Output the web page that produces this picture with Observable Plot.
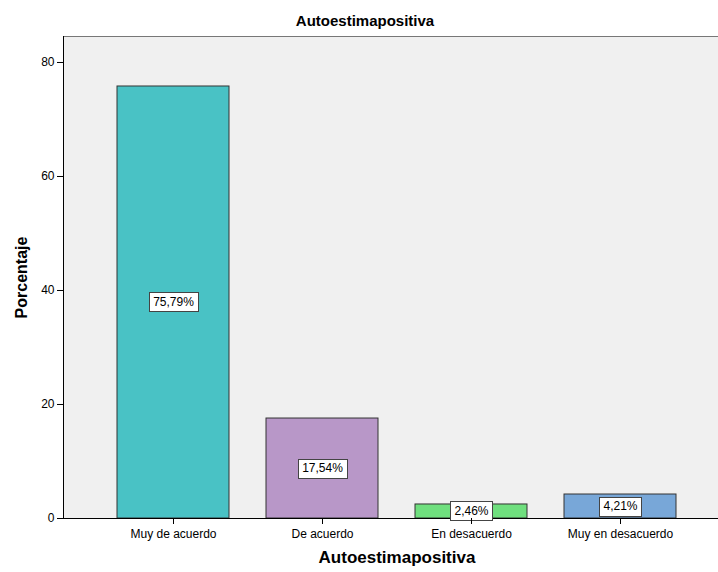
<!DOCTYPE html>
<html>
<head>
<meta charset="utf-8">
<script src="https://cdn.jsdelivr.net/npm/d3@7"></script>
<script src="https://cdn.jsdelivr.net/npm/@observablehq/plot@0.6"></script>
<style>
  body { margin: 0; background: #fff; overflow: hidden; font-family: Arial, "Liberation Sans", sans-serif; }
  #title { width: 730px; height: 36px; line-height: 42px; overflow: visible; text-align: center; font-weight: bold; font-size: 15px; color: #000; }
  svg { display: block; }
  g[aria-label="x-axis label"] text { font-weight: bold; font-size: 17px; }
  g[aria-label="y-axis label"] text { font-weight: bold; font-size: 16px; }
</style>
</head>
<body>
<div id="title">Autoestimapositiva</div>
<script>
// Response categories and their share of respondents (%)
const categories = ["Muy de acuerdo", "De acuerdo", "En desacuerdo", "Muy en desacuerdo"];
const percentages = [75.79, 17.54, 2.46, 4.21];
const barColors = ["#49c2c5", "#b897c8", "#6fdf7e", "#78a7d8"];
const yTicks = [0, 20, 40, 60, 80];

const rows = categories.map((c, i) => ({category: c, value: percentages[i]}));
const fmt = v => v.toFixed(2).replace(".", ",") + "%";
const labelFont = "12px Arial, 'Liberation Sans', sans-serif";

// measure label widths for the boxes
const ctx = document.createElement("canvas").getContext("2d");
ctx.font = labelFont;
const textWidth = s => ctx.measureText(s).width;

// left axis line and top border of the plotting area
function frameLines(index, scales, values, dim) {
  const g = d3.create("svg:g");
  const x0 = dim.marginLeft, x1 = dim.width - dim.marginRight;
  const y0 = dim.marginTop, y1 = dim.height - dim.marginBottom;
  g.append("line").attr("x1", x0).attr("x2", x1).attr("y1", y0 + 0.5).attr("y2", y0 + 0.5).attr("stroke", "#777");
  g.append("line").attr("x1", x0 + 0.5).attr("x2", x0 + 0.5).attr("y1", y0).attr("y2", y1).attr("stroke", "#000");
  return g.node();
}

// white boxes behind the value labels, centred at half the bar height
function labelBoxes(index, scales) {
  const g = d3.create("svg:g");
  for (const d of rows) {
    const cx = scales.x(d.category) + scales.x.bandwidth() / 2;
    const cy = scales.y(d.value / 2);
    const w = textWidth(fmt(d.value)) + 8;
    const h = 19;
    g.append("rect")
      .attr("x", Math.round(cx - w / 2) + 0.5).attr("y", Math.round(cy - h / 2) + 0.5)
      .attr("width", Math.round(w)).attr("height", h)
      .attr("fill", "#fff").attr("stroke", "#444").attr("stroke-width", 1);
  }
  return g.node();
}

const chart = Plot.plot({
  width: 718,
  height: 536,
  marginTop: 0,
  marginLeft: 63,
  marginRight: -12,
  marginBottom: 54,
  style: {fontFamily: "Arial, 'Liberation Sans', sans-serif", fontSize: "12px", color: "#000", background: "transparent"},
  x: {domain: categories, paddingInner: 0.247, paddingOuter: 0.347, align: 0.5},
  y: {domain: [0, 84.56]},
  color: {domain: categories, range: barColors},
  marks: [
    Plot.frame({fill: "#f0f0f0", stroke: null}),
    Plot.barY(rows, {x: "category", y: "value", fill: "category", stroke: "#333", strokeWidth: 1}),
    frameLines,
    Plot.ruleY([0], {stroke: "#000"}),
    labelBoxes,
    Plot.text(rows, {x: "category", y: d => d.value / 2, text: d => fmt(d.value), fontSize: 12, fill: "#000"}),
    Plot.axisY({ticks: yTicks, tickSize: 6, tickPadding: 3, label: "Porcentaje", labelArrow: "none", labelAnchor: "center", labelOffset: 48, stroke: "#000"}),
    Plot.axisX({tickSize: 6, tickPadding: 5, label: "Autoestimapositiva", labelArrow: "none", labelAnchor: "center", labelOffset: 44, stroke: "#000"})
  ]
});
document.body.append(chart);
</script>
</body>
</html>
